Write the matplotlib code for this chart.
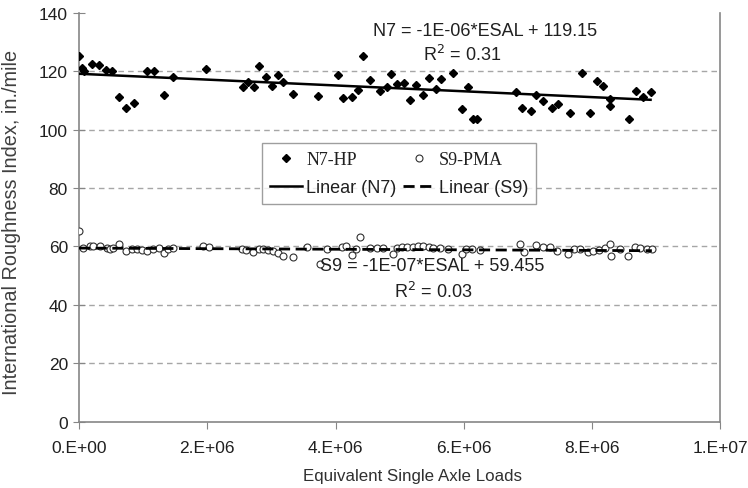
import matplotlib
matplotlib.use("Agg")
import matplotlib.pyplot as plt
import numpy as np

plt.rcParams['font.family'] = ['Liberation Sans', 'DejaVu Sans']

# ---------------- data ----------------
n7_esal_m = [0.0, 0.04, 0.08, 0.2, 0.31, 0.42, 0.52, 0.63, 0.73, 0.86, 1.06, 1.17, 1.33, 1.47,
             1.98, 2.55, 2.63, 2.73, 2.81, 2.91, 3.01, 3.10, 3.18, 3.34, 3.73, 4.03, 4.11, 4.25,
             4.35, 4.42, 4.53, 4.69, 4.80, 4.87, 4.95, 5.06, 5.16, 5.26, 5.37, 5.46, 5.57, 5.64,
             5.83, 5.97, 6.07, 6.14, 6.20, 6.81, 6.91, 7.04, 7.13, 7.24, 7.37, 7.46, 7.66, 7.84,
             7.96, 8.07, 8.17, 8.28, 8.28, 8.57, 8.68, 8.80, 8.91]
n7_iri = [125.3, 121.1, 120.2, 122.5, 122.3, 120.4, 120.2, 111.1, 107.4, 109.0, 120.0, 120.0, 111.9, 117.9,
          120.8, 114.5, 116.4, 114.5, 121.9, 117.9, 115.1, 118.8, 116.4, 112.2, 111.6, 118.7, 110.9, 111.1,
          113.7, 125.3, 117.1, 113.2, 114.5, 119.1, 115.7, 116.0, 110.2, 115.4, 111.9, 117.6, 113.9, 117.4,
          119.3, 107.1, 114.7, 103.7, 103.7, 113.0, 107.4, 106.3, 112.0, 109.7, 107.4, 108.8, 105.7, 119.3,
          105.7, 116.6, 115.1, 110.5, 108.2, 103.7, 113.4, 111.1, 112.8]

s9_esal_m = [0.0, 0.06, 0.17, 0.22, 0.32, 0.43, 0.48, 0.53, 0.63, 0.73, 0.82, 0.90, 0.98, 1.06, 1.16,
             1.24, 1.33, 1.39, 1.47, 1.94, 2.02, 2.54, 2.61, 2.72, 2.80, 2.87, 2.95, 3.03, 3.11, 3.18,
             3.34, 3.55, 3.75, 3.86, 4.10, 4.17, 4.25, 4.32, 4.38, 4.54, 4.64, 4.74, 4.89, 4.95, 5.03,
             5.11, 5.21, 5.29, 5.37, 5.45, 5.52, 5.63, 5.76, 5.97, 6.04, 6.12, 6.25, 6.87, 6.93, 7.13,
             7.24, 7.34, 7.45, 7.63, 7.71, 7.81, 7.94, 8.02, 8.10, 8.20, 8.28, 8.30, 8.43, 8.56, 8.67,
             8.75, 8.85, 8.93]
s9_iri = [65.3, 59.5, 60.0, 60.3, 60.3, 59.5, 59.3, 59.5, 60.9, 58.4, 59.0, 59.0, 58.8, 58.6, 59.1,
          59.5, 57.7, 59.1, 59.5, 60.3, 59.9, 59.1, 58.8, 58.0, 59.1, 59.1, 58.8, 58.4, 57.7, 56.8,
          56.3, 59.9, 54.0, 59.1, 59.9, 60.3, 57.2, 59.1, 63.2, 59.5, 59.5, 59.5, 57.4, 59.5, 59.9,
          59.9, 59.9, 60.3, 60.3, 59.9, 59.5, 59.5, 59.1, 57.4, 59.1, 59.1, 58.8, 61.0, 58.0, 60.6,
          59.9, 59.9, 58.6, 57.4, 59.1, 59.1, 58.0, 58.4, 58.8, 59.5, 60.9, 56.8, 59.1, 56.8, 59.9,
          59.5, 59.1, 59.1]

# trend-line coefficients (from the chart's equations)
n7_slope, n7_intercept = -1e-06, 119.15
s9_slope, s9_intercept = -1e-07, 59.455

x_ticks = [0, 2e6, 4e6, 6e6, 8e6, 1e7]
x_tick_labels = ["0.E+00", "2.E+06", "4.E+06", "6.E+06", "8.E+06", "1.E+07"]
y_ticks = [0, 20, 40, 60, 80, 100, 120, 140]

# ---------------- plot ----------------
fig = plt.figure(figsize=(7.48, 4.89), dpi=100)
ax = fig.add_axes([0.1056, 0.1356, 0.8576, 0.836])

n7_x = np.array(n7_esal_m) * 1e6
s9_x = np.array(s9_esal_m) * 1e6

for yv in y_ticks[1:-1]:
    ax.axhline(yv, color='#a6a6a6', lw=1.0, ls=(0, (4, 3)), zorder=0)

ax.plot(n7_x, n7_iri, ls='none', marker='D', ms=4.5, mfc='black', mec='black',
        label='N7-HP', zorder=3)
ax.plot(s9_x, s9_iri, ls='none', marker='o', ms=5, mfc='white', mec='#303030', mew=0.8,
        label='S9-PMA', zorder=3)

xl_n7 = np.array([min(n7_x), max(n7_x)])
xl_s9 = np.array([min(s9_x), max(s9_x)])
ax.plot(xl_n7, n7_intercept + n7_slope * xl_n7, color='black', lw=1.8, label='Linear (N7)', zorder=4)
ax.plot(xl_s9, s9_intercept + s9_slope * xl_s9, color='black', lw=2.0, ls=(0, (4, 2)),
        label='Linear (S9)', zorder=4)

ax.set_xlim(0, 1e7)
ax.set_ylim(0, 140)
ax.set_xticks(x_ticks)
ax.set_xticklabels(x_tick_labels)
ax.set_yticks(y_ticks)

for s in ['left', 'bottom', 'right']:
    ax.spines[s].set_color('#868686')
    ax.spines[s].set_linewidth(1.2)
ax.spines['top'].set_visible(False)

ax.tick_params(axis='x', direction='out', length=5, color='#868686', labelsize=12.5,
               labelcolor='#202020', pad=8)
ax.tick_params(axis='y', direction='inout', length=8, color='#868686', labelsize=12.5,
               labelcolor='#202020', pad=4)

ax.set_xlabel('Equivalent Single Axle Loads', fontsize=12.2, color='#303030')
ax.set_ylabel('International Roughness Index, in./mile', fontsize=14.3, color='#404040')
ax.xaxis.set_label_coords(0.52, -0.114)
ax.yaxis.set_label_coords(-0.09, 0.49)

ax.text(6.33e6, 134.1, 'N7 = -1E-06*ESAL + 119.15', fontsize=13, ha='center', va='center', color='#202020')
ax.text(5.97e6, 125.9, 'R$^2$ = 0.31', fontsize=13, ha='center', va='center', color='#202020')
ax.text(5.50e6, 53.4, 'S9 = -1E-07*ESAL + 59.455', fontsize=13, ha='center', va='center', color='#202020')
ax.text(5.52e6, 44.9, 'R$^2$ = 0.03', fontsize=13, ha='center', va='center', color='#202020')

handles, labels = ax.get_legend_handles_labels()
order = [0, 2, 1, 3]
leg = ax.legend([handles[i] for i in order], [labels[i] for i in order], ncol=2,
                loc='upper left', bbox_to_anchor=(0.285, 0.682), borderaxespad=0,
                fontsize=13, frameon=True, fancybox=False, edgecolor='#868686',
                handlelength=1.8, handletextpad=0.2, columnspacing=0.35, labelspacing=0.6,
                borderpad=0.45)
leg.get_frame().set_linewidth(1.0)
for t in leg.get_texts():
    if t.get_text() in ('N7-HP', 'S9-PMA'):
        t.set_family(['Liberation Serif', 'DejaVu Serif'])
    t.set_color('#202020')

fig.savefig('out.png', dpi=100)
